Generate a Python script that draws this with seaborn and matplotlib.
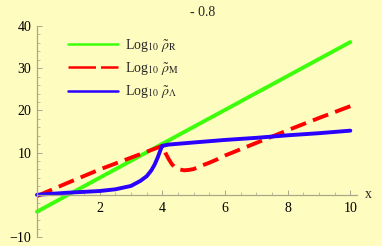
import numpy as np
import pandas as pd
import seaborn as sns
import matplotlib.pyplot as plt
from matplotlib.ticker import MultipleLocator

# values
green_x = [0, 10]
green_y = [-4.0, 36.2]

red_x = [0, 1, 2, 3, 3.5, 4.0, 4.05, 4.1, 4.2, 4.3, 4.4, 4.55, 4.7, 4.85, 5.0,
         5.25, 5.5, 5.75, 6, 7, 8, 9, 10]
red_y = [-0.3, 2.9, 6.0, 8.8, 10.2, 11.6, 10.8, 9.9, 8.5, 7.3, 6.5, 6.0, 5.8, 5.9, 6.1,
         6.9, 7.6, 8.4, 9.3, 12.3, 15.3, 18.2, 21.0]

blue_x = [0, 1, 2, 2.5, 3, 3.3, 3.5, 3.65, 3.75, 3.85, 3.92, 3.97, 4.0, 4.2,
          5, 6, 7, 8, 9, 10]
blue_y = [0, 0.5, 0.9, 1.3, 2.1, 3.3, 4.4, 5.8, 7.1, 8.8, 10.2, 11.2, 11.6, 11.9,
          12.4, 13.0, 13.5, 14.1, 14.6, 15.2]

labels = [r'Log$_{10}$ $\tilde{\rho}_{\rm R}$',
          r'Log$_{10}$ $\tilde{\rho}_{\rm M}$',
          r'Log$_{10}$ $\tilde{\rho}_{\Lambda}$']
title = '- 0.8'

bg = '#fffcbf'
axis_col = '#a9a88a'

sns.set_theme(style='white')
plt.rcParams['font.family'] = ['Liberation Serif', 'DejaVu Serif']
plt.rcParams['mathtext.fontset'] = 'stix'

fig = plt.figure(figsize=(3.82, 2.46), dpi=100, facecolor=bg)
ax = fig.add_axes([37 / 382, 9 / 246, 319.6 / 382, 211 / 246])
ax.set_facecolor(bg)

sns.lineplot(x=green_x, y=green_y, ax=ax, color='#3cff0a', lw=2.8, label=labels[0],
             sort=False)
sns.lineplot(x=red_x, y=red_y, ax=ax, color='#ff0000', lw=2.8, label=labels[1],
             sort=False, dashes=False)
ax.lines[-1].set_dashes((4.2, 1.9))
sns.lineplot(x=blue_x, y=blue_y, ax=ax, color='#2a00ff', lw=2.8, label=labels[2],
             sort=False)
for ln in ax.lines:
    ln.set_solid_capstyle('round')
    ln.set_solid_joinstyle('round')
    ln.set_clip_on(False)

ax.set_xlim(0, 10.2)
ax.set_ylim(-10, 40)
ax.spines['left'].set_position(('data', 0))
ax.spines['bottom'].set_position(('data', 0))
ax.spines['top'].set_visible(False)
ax.spines['right'].set_visible(False)
for s in ['left', 'bottom']:
    ax.spines[s].set_color(axis_col)
    ax.spines[s].set_linewidth(0.9)

ax.set_xticks([2, 4, 6, 8, 10])
ax.set_yticks([-10, 10, 20, 30, 40])
ax.set_yticklabels(['\u221210', '10', '20', '30', '40'])
ax.xaxis.set_minor_locator(MultipleLocator(0.5))
ax.yaxis.set_minor_locator(MultipleLocator(2))
ax.tick_params(which='major', direction='in', length=3.5, width=0.7, color=axis_col,
               labelsize=10, labelcolor='black', pad=4)
ax.tick_params(which='minor', direction='in', length=2, width=0.5, color=axis_col)
ax.tick_params(axis='x', bottom=True, pad=5.5)
ax.tick_params(axis='y', left=True)
ax.tick_params(axis='x', which='minor', bottom=True)
ax.tick_params(axis='y', which='minor', left=True)
ax.set_xlabel('')
ax.set_ylabel('')

ax.text(10.45, 0.0, 'x', fontsize=10, va='center', ha='left', clip_on=False)
fig.text(203 / 382, 1 - 13 / 246, title, fontsize=10, ha='center', va='center')

leg = ax.legend(loc='upper left', bbox_to_anchor=(68 / 382, 1 - 37 / 246),
                bbox_transform=fig.transFigure, frameon=False, fontsize=10,
                handlelength=3.6, handletextpad=0.5, labelspacing=0.45,
                borderpad=0, borderaxespad=0)
for h in leg.get_lines():
    h.set_linewidth(1.8)
leg.get_lines()[1].set_dashes((11, 2))

fig.savefig('out.png', dpi=100, facecolor=bg)
